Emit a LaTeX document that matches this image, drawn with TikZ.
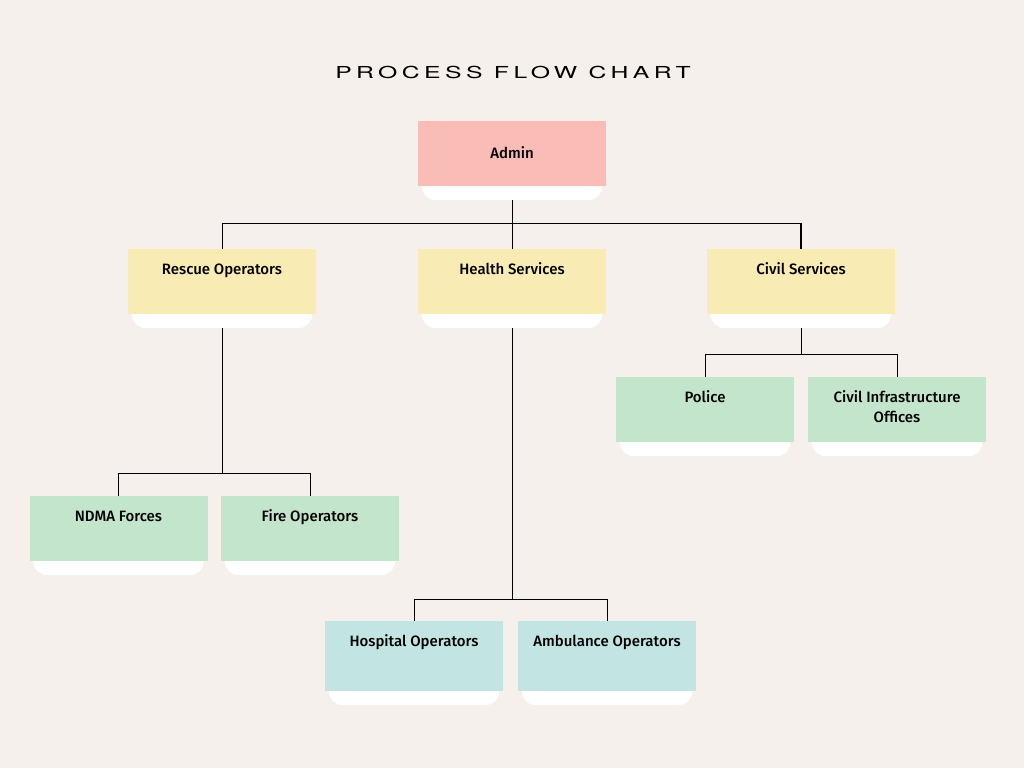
\documentclass[tikz,border=0pt]{standalone}
\usepackage{fontspec}
\setmainfont{Fira Sans Medium}
\newfontfamily\titlefont{TeX Gyre Heros}[LetterSpace=27,FakeStretch=1.5]
\usetikzlibrary{backgrounds}
\definecolor{paper}{RGB}{245,240,235}
\definecolor{adminpink}{RGB}{250,188,182}
\definecolor{unityellow}{RGB}{248,235,180}
\definecolor{teamgreen}{RGB}{195,229,203}
\definecolor{teamcyan}{RGB}{194,228,227}
\begin{document}
\begin{tikzpicture}[x=1pt,y=-1pt]
\tikzset{card/.style = {shape=rectangle, inner xsep=0pt, inner ysep=0pt,
		minimum width=188pt, align=center, font=\fontsize{15}{20}\selectfont,
		text height=25pt, text depth=40pt}}
\tikzset{small/.style = {minimum width=178pt}}
\tikzset{link/.style = {draw=black, line width=1pt}}
\useasboundingbox (0,0) rectangle (1024,768);
\node (title) at (513,72) {\titlefont\fontsize{16.5}{20}\selectfont PROCESS FLOW CHART};
% cards
\node[card, fill=adminpink, text height=37.5pt, text depth=27.5pt] (admin) at (512,153.5) {Admin};
\node[card, fill=unityellow] (rescue) at (222,281.5) {Rescue Operators};
\node[card, fill=unityellow] (health) at (512,281.5) {Health Services};
\node[card, fill=unityellow] (civil) at (801,281.5) {Civil Services};
\node[card, small, fill=teamgreen] (police) at (705,409.5) {Police};
\node[card, small, fill=teamgreen, text height=45pt, text depth=20pt] (cio) at (897,409.5) {Civil Infrastructure\\Offices};
\node[card, small, fill=teamgreen] (ndma) at (118.5,528.5) {NDMA Forces};
\node[card, small, fill=teamgreen] (fire) at (310,528.5) {Fire Operators};
\node[card, small, fill=teamcyan, text depth=45pt] (hospital) at (414,656) {Hospital Operators};
\node[card, small, fill=teamcyan, text depth=45pt] (ambulance) at (607,656) {Ambulance Operators};
% white card bottoms
\begin{scope}[on background layer]
\fill[paper] (0,0) rectangle (1024,768);
\foreach \c in {admin,rescue,health,civil,police,cio,ndma,fire,hospital,ambulance}
	\fill[white, rounded corners=14pt] ([xshift=4pt,yshift=20pt]\c.south west) rectangle ([xshift=-4pt,yshift=-14pt]\c.south east);
\end{scope}
% links
\draw[link, shorten <=14pt] (admin.south) -- (health.north);
\draw[link] (rescue.north) -- ++(0,-25) -| (civil.north);
\draw[line width=2.5pt] (civil.north) -- ++(0,-25);
\draw[link, shorten <=14pt] (rescue.south) -- ++(0,159) -| (ndma.north);
\draw[link] (rescue.south) ++(0,159) -| (fire.north);
\draw[link, shorten <=14pt] (health.south) -- ++(0,285) -| (hospital.north);
\draw[link] (health.south) ++(0,285) -| (ambulance.north);
\draw[link, shorten <=14pt] (civil.south) -- ++(0,40) -| (police.north);
\draw[link] (civil.south) ++(0,40) -| (cio.north);
\end{tikzpicture}
\end{document}
